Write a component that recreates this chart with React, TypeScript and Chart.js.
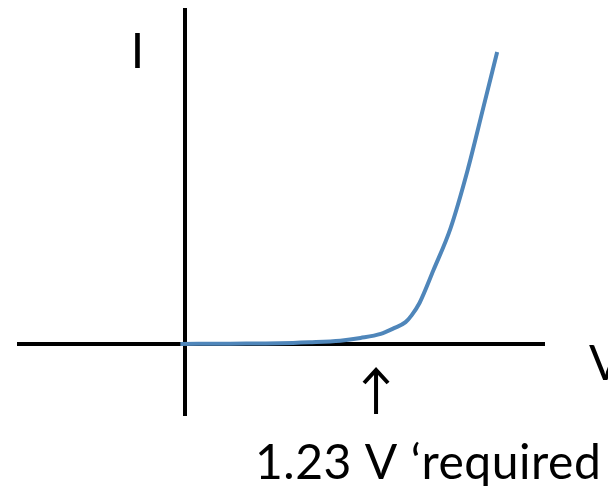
import { useEffect, useRef } from "react";
import { Chart, registerables } from "chart.js";

Chart.register(...registerables);

// Current–voltage curve for water electrolysis (arbitrary current units)
const voltage = [-0.03, 0.29, 0.61, 0.8, 1.0, 1.13, 1.26, 1.35, 1.42, 1.46, 1.51, 1.6, 1.71, 1.82, 1.92, 2.01];
const current = [0, 0.01, 0.02, 0.05, 0.1, 0.18, 0.3, 0.48, 0.65, 0.86, 1.22, 2.2, 3.45, 5.18, 7.02, 8.69];

const markerVoltage = 1.23;
const markerLabel = "1.23 V ‘required";
const xAxisLabel = "V";
const yAxisLabel = "I";

const xRange = [-1.082, 2.318];
const yRange = [-2.143, 10];

const FONT = "Lato, 'DejaVu Sans', sans-serif";

// Axis labels, the marker arrow and its caption
const annotate = {
  id: "annotate",
  afterDraw(chart: any) {
    const { ctx } = chart;
    const x = chart.scales.x;
    const y = chart.scales.y;
    const x0 = x.getPixelForValue(0);
    const y0 = y.getPixelForValue(0);
    const ax = x.getPixelForValue(markerVoltage);

    ctx.save();
    ctx.fillStyle = "#000";
    ctx.strokeStyle = "#000";
    ctx.font = `48px ${FONT}`;
    ctx.textBaseline = "alphabetic";
    ctx.textAlign = "center";
    ctx.fillText(yAxisLabel, x0 - 47.5, 68);
    ctx.textAlign = "left";
    ctx.fillText(xAxisLabel, 589, y0 + 36);

    // upward arrow under the marker voltage
    ctx.lineWidth = 4;
    ctx.lineCap = "butt";
    ctx.lineJoin = "miter";
    ctx.beginPath();
    ctx.moveTo(ax, y0 + 70);
    ctx.lineTo(ax, y0 + 27);
    ctx.stroke();
    ctx.beginPath();
    ctx.moveTo(ax - 12, y0 + 39);
    ctx.lineTo(ax, y0 + 26);
    ctx.lineTo(ax + 12, y0 + 39);
    ctx.stroke();

    // caption, spread to its line width
    ctx.font = `48px ${FONT}`;
    (ctx as any).letterSpacing = "0px";
    const m = ctx.measureText(markerLabel);
    const ink = m.actualBoundingBoxLeft + m.actualBoundingBoxRight;
    const left = 258;
    const right = 598;
    const spacing = (right - left - ink) / (markerLabel.length - 1);
    (ctx as any).letterSpacing = `${spacing}px`;
    ctx.fillText(markerLabel, left + m.actualBoundingBoxLeft, 479);
    ctx.restore();
  },
};

const axisScale = (range: number[]) => ({
  type: "linear" as const,
  min: range[0],
  max: range[1],
  border: { display: false },
  ticks: { display: false },
  grid: { drawTicks: false, color: "#000", lineWidth: 4 },
  afterBuildTicks: (s: any) => {
    s.ticks = [{ value: 0 }];
  },
});

export default function App() {
  const canvasRef = useRef<HTMLCanvasElement | null>(null);

  useEffect(() => {
    if (!canvasRef.current) return;
    const chart = new Chart(canvasRef.current, {
      type: "line",
      data: {
        datasets: [
          {
            data: voltage.map((v, i) => ({ x: v, y: current[i] })),
            borderColor: "#4F86BA",
            borderWidth: 4,
            pointRadius: 0,
            fill: false,
            cubicInterpolationMode: "monotone",
            clip: false as any,
          },
        ],
      },
      options: {
        responsive: false,
        animation: false,
        layout: { padding: { left: 17, right: 63, top: 8, bottom: 70 } },
        plugins: { legend: { display: false }, tooltip: { enabled: false } },
        scales: {
          x: axisScale(xRange) as any,
          y: axisScale(yRange) as any,
        },
      },
      plugins: [annotate],
    });
    return () => chart.destroy();
  }, []);

  return (
    <div style={{ position: "absolute", left: 0, top: 0, width: 608, height: 486 }}>
      <canvas ref={canvasRef} width={608} height={486} style={{ display: "block" }} />
    </div>
  );
}
